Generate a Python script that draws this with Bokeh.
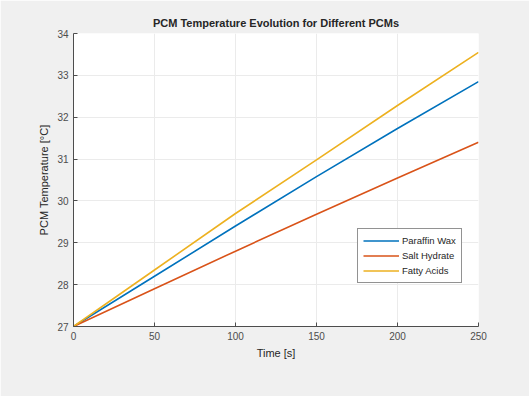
from bokeh.plotting import figure
from bokeh.models import Range1d, FixedTicker, Legend, LegendItem
from bokeh.embed import file_html
from bokeh.resources import INLINE

time_s = [0, 50, 100, 150, 200, 250]
paraffin_wax = [27.0, 28.2, 29.4, 30.58, 31.73, 32.85]
salt_hydrate = [27.0, 27.9, 28.8, 29.68, 30.55, 31.4]
fatty_acids = [27.0, 28.35, 29.7, 30.98, 32.28, 33.55]
series_names = ["Paraffin Wax", "Salt Hydrate", "Fatty Acids"]
x_ticks = [0, 50, 100, 150, 200, 250]
y_ticks = [27, 28, 29, 30, 31, 32, 33, 34]

colors = ["#0072BD", "#D95319", "#EDB120"]
FONT = "Liberation Sans"

p = figure(width=529, height=396, output_backend="svg", toolbar_location=None,
           x_range=Range1d(0, 250), y_range=Range1d(27, 34),
           min_border_left=73, min_border_right=51, min_border_top=33, min_border_bottom=70)
p.background_fill_color = "white"
p.border_fill_color = "#f0f0f0"
p.outline_line_color = None

p.title.text = "PCM Temperature Evolution for Different PCMs"
p.title.text_font = FONT
p.title.text_font_size = "11px"
p.title.text_font_style = "bold"
p.title.align = "center"
p.title.text_color = "#262626"

for ax in (p.xaxis[0], p.yaxis[0]):
    ax.major_label_text_font = FONT
    ax.major_label_text_font_size = "10px"
    ax.major_label_text_color = "#4d4d4d"
    ax.axis_label_text_font = FONT
    ax.axis_label_text_font_size = "11px"
    ax.axis_label_text_font_style = "normal"
    ax.axis_label_text_color = "#262626"
    ax.axis_line_color = "#4d4d4d"
    ax.major_tick_line_color = "#4d4d4d"
    ax.major_tick_in = 4
    ax.major_tick_out = 0
    ax.minor_tick_line_color = None

p.xaxis[0].ticker = FixedTicker(ticks=x_ticks)
p.yaxis[0].ticker = FixedTicker(ticks=y_ticks)
p.xaxis[0].axis_label = "Time [s]"
p.yaxis[0].axis_label = "PCM Temperature [°C]"
p.xaxis[0].axis_label_standoff = 4
p.yaxis[0].axis_label_standoff = 4

p.xgrid.grid_line_color = "#ebebeb"
p.ygrid.grid_line_color = "#ebebeb"
p.xgrid.ticker = FixedTicker(ticks=x_ticks)
p.ygrid.ticker = FixedTicker(ticks=y_ticks)

items = []
for ys, c, name in zip([paraffin_wax, salt_hydrate, fatty_acids], colors, series_names):
    r = p.line(time_s, ys, line_color=c, line_width=1.6)
    items.append(LegendItem(label=name, renderers=[r]))

legend = Legend(items=items, location=(284, 43))
legend.label_text_font = FONT
legend.label_text_font_size = "9.5px"
legend.label_text_color = "#262626"
legend.glyph_width = 36
legend.glyph_height = 13
legend.label_standoff = 3
legend.spacing = 2
legend.padding = 5
legend.margin = 0
legend.border_line_color = "#262626"
legend.border_line_width = 1
legend.background_fill_color = "white"
legend.background_fill_alpha = 1
p.add_layout(legend, "center")

open("out.html", "w").write(file_html(p, INLINE))
